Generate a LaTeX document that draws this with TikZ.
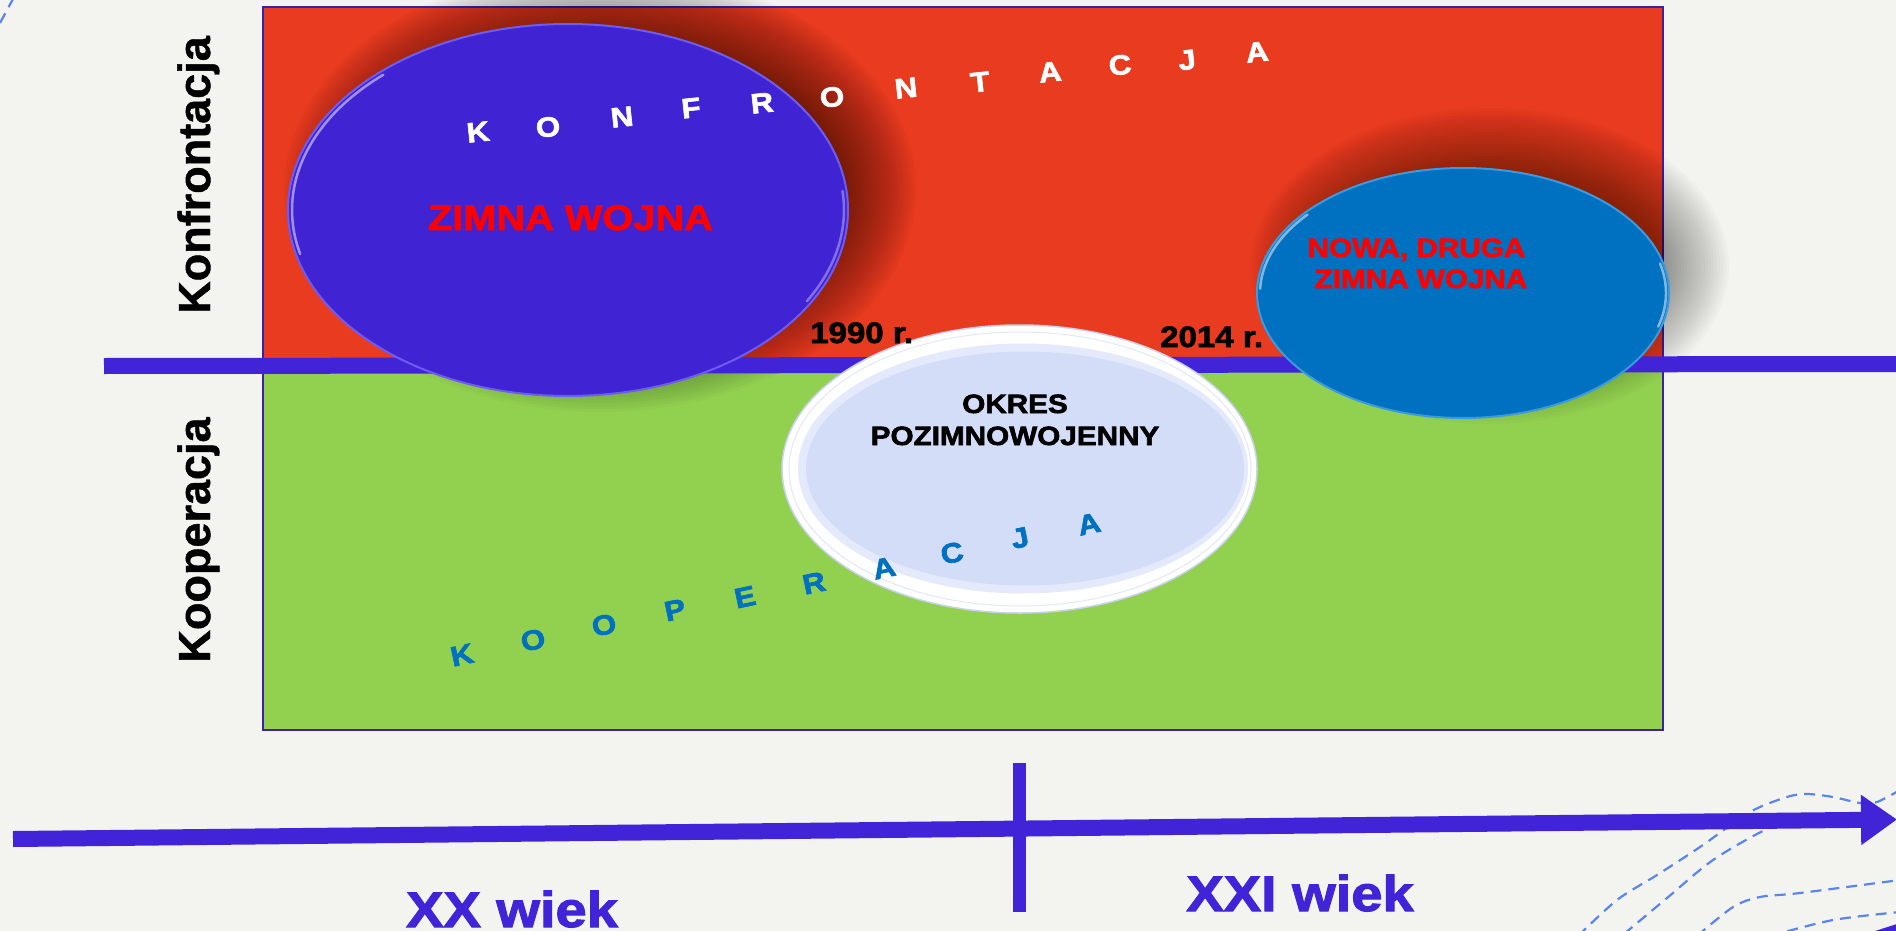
\documentclass[tikz,border=0pt]{standalone}
\usepackage{fontspec}
\setmainfont{Liberation Sans}
\newfontfamily\blk[FakeStretch=1.12,BoldFeatures={FakeBold=2.2}]{Liberation Sans}
\newfontfamily\sidefont[BoldFeatures={FakeBold=1}]{Liberation Sans}
\usepackage{graphicx}
\usetikzlibrary{arrows.meta}
\definecolor{bgc}{HTML}{F3F3EF}
\definecolor{redc}{HTML}{E83B1F}
\definecolor{greenc}{HTML}{92D050}
\definecolor{indigo}{HTML}{4224D8}
\definecolor{ellA}{HTML}{4024D4}
\definecolor{ellArim}{HTML}{6E5CF2}
\definecolor{blueB}{HTML}{0070C0}
\definecolor{blueBrim}{HTML}{3A9AE0}
\definecolor{lav}{HTML}{D4DDF8}
\definecolor{lavmid}{HTML}{E4EAFB}
\definecolor{lavrim}{HTML}{C9D2EE}
\definecolor{dashc}{HTML}{5B85EC}
\definecolor{rectb}{HTML}{3A22A8}
\definecolor{redtxt}{HTML}{FF0000}
\definecolor{kblue}{HTML}{0070C0}
\begin{document}
\begin{tikzpicture}[x=1pt,y=-1pt,
  dashline/.style={draw=dashc, line width=2.2pt, dash pattern=on 11pt off 7pt},
  sidelabel/.style={inner sep=0pt, rotate=90, anchor=base, font=\sidefont\fontsize{45}{54}\selectfont\bfseries, text=black},
  bigred/.style={inner sep=0pt, anchor=base, font=\blk\fontsize{35.5}{42}\selectfont\bfseries, text=redtxt},
  midtxt/.style={inner sep=0pt, anchor=base, font=\blk\fontsize{26.5}{32}\selectfont\bfseries},
  yeartxt/.style={inner sep=0pt, anchor=base west, font=\blk\fontsize{29.5}{34}\selectfont\bfseries, text=black},
  arcletter/.style={inner sep=0pt, anchor=center, font=\blk\fontsize{28}{30}\selectfont\bfseries},
  centtxt/.style={inner sep=0pt, anchor=base, font=\blk\fontsize{50}{60}\selectfont\bfseries, text=indigo},
  thickline/.style={draw=indigo, line width=16pt},
  hilite/.style={draw=white, line width=2.5pt, opacity=0.5, line cap=round},
]
\useasboundingbox (0,0) rectangle (1896,931);
\fill[bgc] (0,0) rectangle (1896,931);

% dashed decoration, top-left
\draw[dashline] (0,23) -- (13,-1);

% main panel
\fill[redc] (263,7) rectangle (1663,364);
\fill[greenc] (263,364) rectangle (1663,730);
\draw[draw=rectb, line width=2.5pt] (263,7) rectangle (1663,730);

% blurred shadows
\foreach \d [evaluate=\d as \rx using 280+\d, evaluate=\d as \ry using 186+\d] in {-36,-33,...,36}
  \fill[black, opacity=0.022] (600,190) ellipse[x radius=\rx pt, y radius=\ry pt];
\foreach \d [evaluate=\d as \rx using 206+\d, evaluate=\d as \ry using 125+\d] in {-33,-30,...,33}
  \fill[black, opacity=0.02] (1490,266) ellipse[x radius=\rx pt, y radius=\ry pt];

% middle axis line
\coordinate (ml0) at (104,366);
\coordinate (ml1) at (1900,364);
\draw[thickline] (ml0) -- (ml1);

% year label under the blue ellipse
\node[yeartxt] (y2014) at (1160,347) {2014 r.};

% ellipse 1: ZIMNA WOJNA
\fill[ellA, draw=ellArim, line width=2pt] (568,210) ellipse[x radius=280pt, y radius=186pt];
\draw[hilite] plot[domain=166:228, samples=40] ({568+276*cos(\x)},{210+182*sin(\x)});
\draw[hilite, opacity=0.35] plot[domain=-6:30, samples=30] ({568+276*cos(\x)},{210+182*sin(\x)});

% light ellipse: okres pozimnowojenny
\fill[white, draw=lavrim, line width=1.5pt] (1019.5,469) ellipse[x radius=237.5pt, y radius=144pt];
\draw[draw=lavrim!50, line width=1pt] (1020,469) ellipse[x radius=231pt, y radius=137pt];
\fill[lavmid] (1023,468.5) ellipse[x radius=225pt, y radius=125pt];
\fill[lav] (1025,468.5) ellipse[x radius=219pt, y radius=117pt];

% ellipse 2: nowa, druga zimna wojna
\fill[blueB, draw=blueBrim, line width=2pt] (1463,293) ellipse[x radius=206pt, y radius=125pt];
\draw[hilite] plot[domain=182:220, samples=30] ({1463+203*cos(\x)},{293+122*sin(\x)});
\draw[hilite] plot[domain=-14:16, samples=30] ({1463+203*cos(\x)},{293+122*sin(\x)});

% texts
\node[sidelabel] (konf) at (210,175) {Konfrontacja};
\node[sidelabel] (koop) at (210,540) {Kooperacja};
\node[bigred] (zw) at (570.5,230) {ZIMNA WOJNA};
\node[yeartxt] (y1990) at (810,343) {1990 r.};
\node[midtxt, text=black] (ok1) at (1015,413) {OKRES};
\node[midtxt, text=black] (ok2) at (1015,445) {POZIMNOWOJENNY};
\node[midtxt, text=redtxt] (nz1) at (1416.5,257) {NOWA, DRUGA};
\node[midtxt, text=redtxt] (nz2) at (1421,288) {ZIMNA WOJNA};

% arc letters
\foreach \l/\x/\y [count=\i] in {K/478/132, O/548/127, N/622/117, F/691/108, R/762/103, O/832/97, N/906/88, T/980/82, A/1050/72, C/1120/65, J/1187/60, A/1257/52}
  \node[arcletter, text=white, rotate=6] (kf\i) at (\x,\y) {\l};
\foreach \l/\x/\y [count=\i] in {K/462/655, O/533/640, O/604/625, P/675/610, E/745/597, R/814/583, A/884/568, C/952/553, J/1020/538, A/1089/524}
  \node[arcletter, text=kblue, rotate=12] (kp\i) at (\x,\y) {\l};

% dashed decoration, bottom-right
\draw[dashline] plot[smooth] coordinates {(1578,936) (1617,900) (1657,875) (1700,847) (1750,812) (1787,797) (1807,794) (1833,797) (1860,803) (1877,802) (1900,790)};
\draw[dashline] plot[smooth] coordinates {(1624,934) (1667,898) (1713,860) (1767,829) (1805,818)};
\draw[dashline] plot[smooth] coordinates {(1697,936) (1733,907) (1760,897) (1800,893) (1900,880)};
\draw[dashline] plot[smooth] coordinates {(1770,936) (1833,920) (1900,912)};
\fill[indigo] (1872,932) -- (1900,923) -- (1900,932) -- cycle;

% time axis
\coordinate (ta) at (13,839);
\coordinate (tb) at (1897,819.5);
\draw[thickline, -{Triangle[length=36pt,width=48pt]}] (ta) -- (tb);
\coordinate (tk0) at (1019.5,763);
\coordinate (tk1) at (1019.5,912);
\draw[draw=indigo, line width=12.5pt] (tk0) -- (tk1);
\node[centtxt] (xx) at (512,927) {XX wiek};
\node[centtxt] (xxi) at (1300,911) {XXI wiek};
\end{tikzpicture}
\end{document}
